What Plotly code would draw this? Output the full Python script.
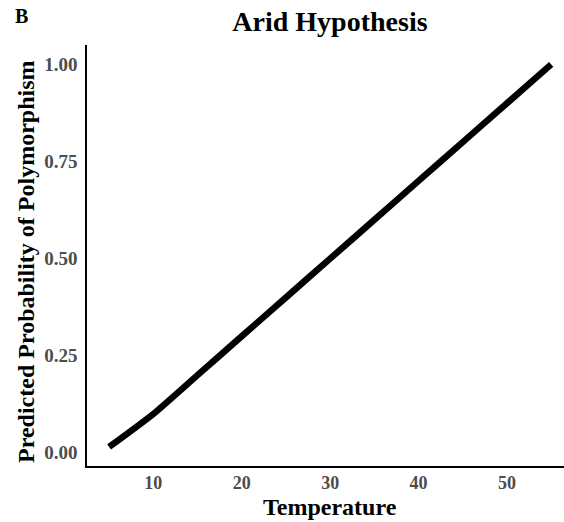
import plotly.graph_objects as go

temperature = [5, 10, 15, 20, 25, 30, 35, 40, 45, 50, 55]
probability = [0.015, 0.10, 0.20, 0.30, 0.40, 0.50, 0.60, 0.70, 0.80, 0.90, 1.00]
x_ticks = [10, 20, 30, 40, 50]
y_ticks = [0.0, 0.25, 0.5, 0.75, 1.0]
y_tick_labels = ["0.00", "0.25", "0.50", "0.75", "1.00"]

serif = "Liberation Serif, Times New Roman, serif"

fig = go.Figure()
fig.add_trace(go.Scatter(
    x=temperature, y=probability, mode="lines",
    line=dict(color="black", width=6.5, shape="spline", smoothing=0.6),
    showlegend=False, hoverinfo="skip",
))

fig.update_layout(
    width=564, height=522,
    margin=dict(l=87, r=0, t=45, b=56, autoexpand=False),
    paper_bgcolor="white", plot_bgcolor="white",
    font=dict(family=serif, color="black"),
    title=dict(text="<b>Arid Hypothesis</b>", x=0.585, xanchor="center",
               y=0.96, yanchor="middle", font=dict(size=28, family=serif, color="black")),
    annotations=[
        dict(text="<b>B</b>", x=-0.138, y=1.068, xref="paper", yref="paper",
             xanchor="center", yanchor="middle", showarrow=False,
             font=dict(size=20, family=serif, color="black")),
        dict(text="<b>Temperature</b>", x=0.509, y=-0.098, xref="paper", yref="paper",
             xanchor="center", yanchor="middle", showarrow=False,
             font=dict(size=24, family=serif, color="black")),
        dict(text="<b>Predicted Probability of Polymorphism</b>", x=-0.128, y=0.4846,
             xref="paper", yref="paper", xanchor="center", yanchor="middle",
             textangle=-90, showarrow=False,
             font=dict(size=24, family=serif, color="black")),
    ],
)

fig.update_xaxes(
    range=[2.5, 56.45], tickvals=x_ticks, ticktext=[f"<b>{t}</b>" for t in x_ticks],
    ticks="", showgrid=False, zeroline=False,
    showline=True, linecolor="black", linewidth=1.5,
    tickfont=dict(size=18, family=serif, color="#4D4D4D"),
)
fig.update_yaxes(
    range=[-0.034, 1.05], tickvals=y_ticks, ticktext=[f"<b>{t}</b>" for t in y_tick_labels],
    ticks="", showgrid=False, zeroline=False, showline=True, linecolor="black", linewidth=1.5,
    tickfont=dict(size=19, family=serif, color="#4D4D4D"), ticklabelstandoff=4,
)

fig.write_html("out.html")
